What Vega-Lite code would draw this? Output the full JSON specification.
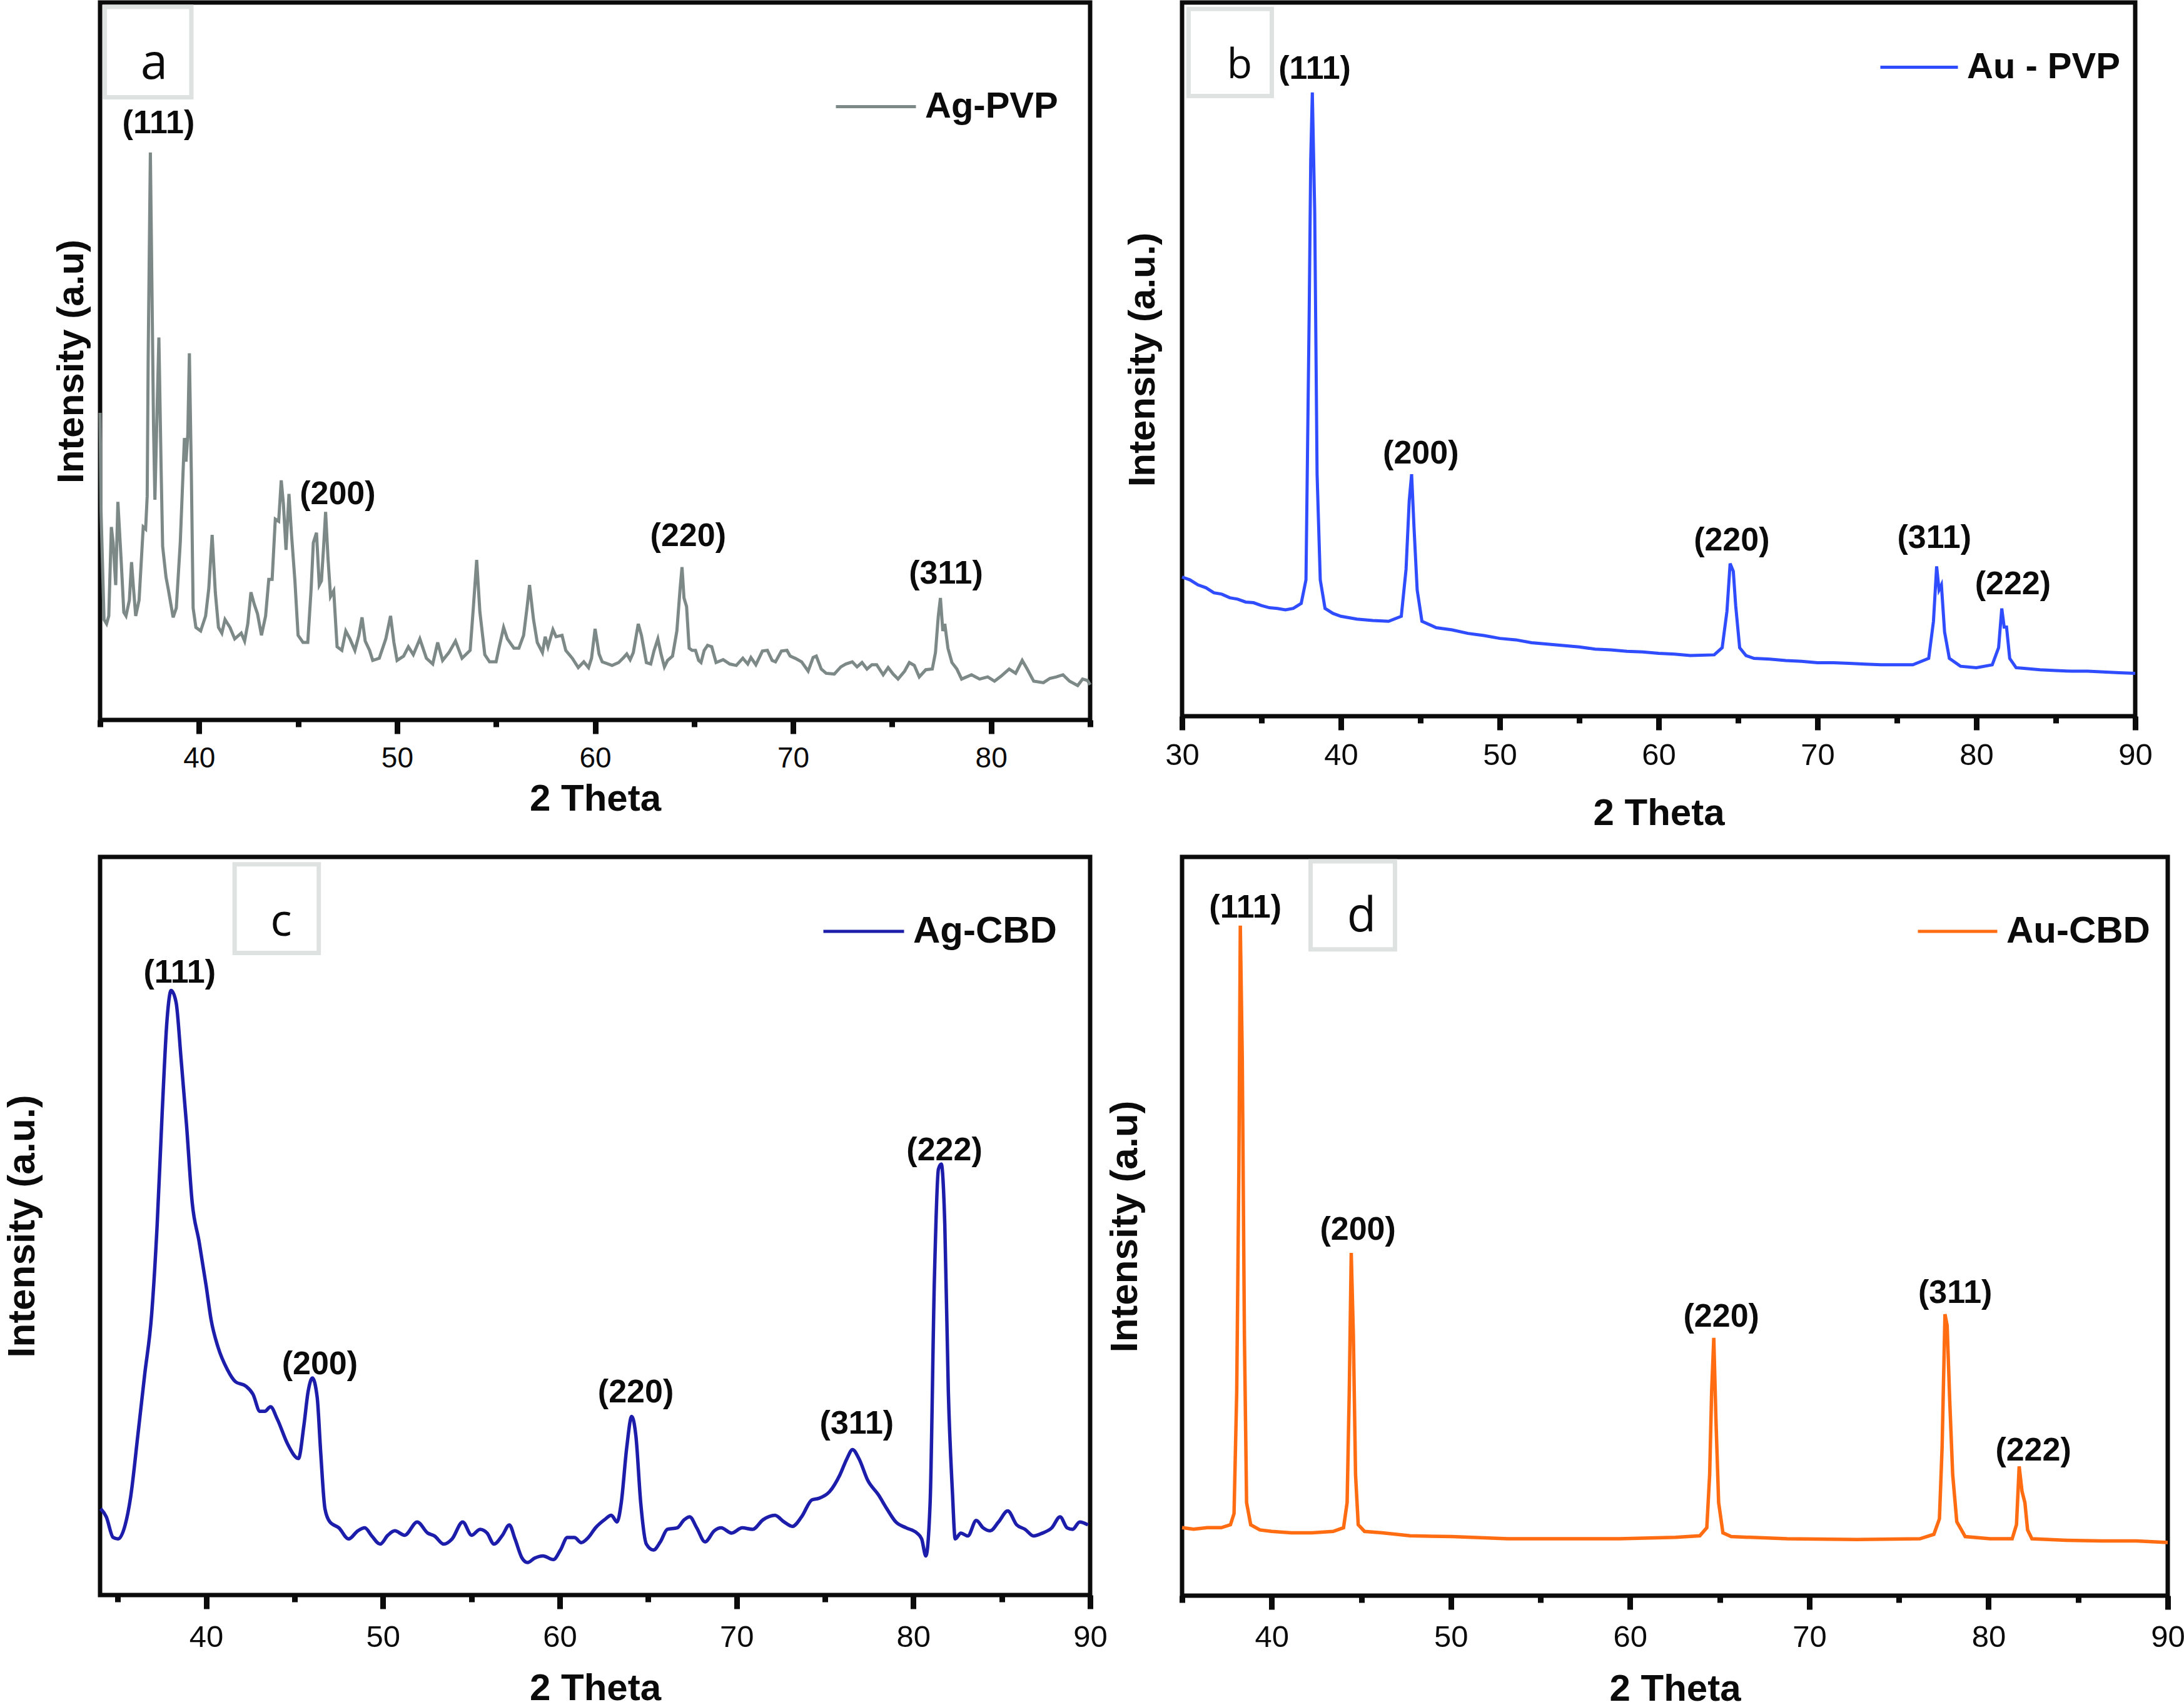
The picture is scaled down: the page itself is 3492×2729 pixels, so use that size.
{
"$schema": "https://vega.github.io/schema/vega-lite/v6.json",
"padding": 0,
"background": "white",
"columns": 2,
"spacing": {"row": 219, "column": 147},
"bounds": "flush",
"align": "each",
"resolve": {"scale": {"x": "independent", "y": "independent", "color": "independent"}},
"datasets": {
"a": [
{"theta":35.0,"intensity":42.8},{"theta":35.05,"intensity":29},{"theta":35.2,"intensity":14},{"theta":35.33,"intensity":13.4},{"theta":35.44,"intensity":14.5},{"theta":35.57,"intensity":26.9},{"theta":35.66,"intensity":24.7},{"theta":35.79,"intensity":18.8},{"theta":35.9,"intensity":30.4},{"theta":36.07,"intensity":22},{"theta":36.2,"intensity":15},{"theta":36.31,"intensity":14.5},{"theta":36.48,"intensity":16.7},{"theta":36.59,"intensity":22},{"theta":36.69,"intensity":18.3},{"theta":36.8,"intensity":14.5},{"theta":36.97,"intensity":16.7},{"theta":37.18,"intensity":26.9},{"theta":37.3,"intensity":26.6},{"theta":37.38,"intensity":31.2},{"theta":37.43,"intensity":50.6},{"theta":37.54,"intensity":79.1},{"theta":37.62,"intensity":60.2},{"theta":37.7,"intensity":40.9},{"theta":37.77,"intensity":30.7},{"theta":37.87,"intensity":42},{"theta":37.97,"intensity":53.3},{"theta":38.08,"intensity":35.5},{"theta":38.16,"intensity":24.2},{"theta":38.33,"intensity":19.9},{"theta":38.44,"intensity":18.3},{"theta":38.69,"intensity":14.3},{"theta":38.85,"intensity":15.6},{"theta":39.05,"intensity":24.7},{"theta":39.26,"intensity":39.3},{"theta":39.34,"intensity":36},{"theta":39.43,"intensity":39.8},{"theta":39.51,"intensity":51.1},{"theta":39.61,"intensity":34.4},{"theta":39.7,"intensity":15.6},{"theta":39.84,"intensity":12.9},{"theta":40.08,"intensity":12.4},{"theta":40.33,"intensity":14.5},{"theta":40.49,"intensity":18.3},{"theta":40.66,"intensity":25.8},{"theta":40.82,"intensity":17.8},{"theta":40.98,"intensity":12.9},{"theta":41.15,"intensity":12.1},{"theta":41.31,"intensity":14},{"theta":41.56,"intensity":12.9},{"theta":41.8,"intensity":11.3},{"theta":42.13,"intensity":12.1},{"theta":42.3,"intensity":11},{"theta":42.46,"intensity":13.4},{"theta":42.62,"intensity":17.8},{"theta":42.79,"intensity":16.1},{"theta":42.95,"intensity":14.8},{"theta":43.15,"intensity":11.8},{"theta":43.36,"intensity":14.5},{"theta":43.52,"intensity":19.6},{"theta":43.69,"intensity":19.6},{"theta":43.85,"intensity":28},{"theta":44.02,"intensity":27.7},{"theta":44.15,"intensity":33.4},{"theta":44.26,"intensity":30.1},{"theta":44.39,"intensity":23.7},{"theta":44.54,"intensity":31.5},{"theta":44.67,"intensity":25.8},{"theta":44.84,"intensity":19.4},{"theta":45.0,"intensity":11.8},{"theta":45.25,"intensity":10.8},{"theta":45.49,"intensity":10.8},{"theta":45.66,"intensity":18.3},{"theta":45.77,"intensity":24.7},{"theta":45.93,"intensity":26.1},{"theta":46.07,"intensity":18.8},{"theta":46.18,"intensity":19.4},{"theta":46.28,"intensity":23.7},{"theta":46.39,"intensity":29},{"theta":46.51,"intensity":22.6},{"theta":46.64,"intensity":17.2},{"theta":46.8,"intensity":18},{"theta":46.97,"intensity":10.2},{"theta":47.21,"intensity":9.7},{"theta":47.41,"intensity":12.4},{"theta":47.62,"intensity":11.3},{"theta":47.87,"intensity":9.7},{"theta":48.07,"intensity":11.8},{"theta":48.23,"intensity":14.3},{"theta":48.39,"intensity":11},{"theta":48.61,"intensity":9.7},{"theta":48.77,"intensity":8.3},{"theta":49.1,"intensity":8.6},{"theta":49.43,"intensity":11.3},{"theta":49.67,"intensity":14.5},{"theta":49.84,"intensity":10.8},{"theta":50.0,"intensity":8.3},{"theta":50.33,"intensity":8.9},{"theta":50.57,"intensity":10.2},{"theta":50.82,"intensity":9.1},{"theta":51.15,"intensity":11.3},{"theta":51.48,"intensity":8.6},{"theta":51.8,"intensity":7.8},{"theta":52.05,"intensity":10.8},{"theta":52.3,"intensity":8.3},{"theta":52.62,"intensity":9.4},{"theta":52.95,"intensity":11},{"theta":53.28,"intensity":8.6},{"theta":53.69,"intensity":9.7},{"theta":53.85,"intensity":15.6},{"theta":54.02,"intensity":22.3},{"theta":54.18,"intensity":15.1},{"theta":54.43,"intensity":9.1},{"theta":54.67,"intensity":8.1},{"theta":55.0,"intensity":8.1},{"theta":55.16,"intensity":10.2},{"theta":55.38,"intensity":12.9},{"theta":55.57,"intensity":11.3},{"theta":55.9,"intensity":10},{"theta":56.15,"intensity":10},{"theta":56.39,"intensity":11.8},{"theta":56.56,"intensity":15.6},{"theta":56.69,"intensity":18.8},{"theta":56.89,"intensity":14},{"theta":57.08,"intensity":10.8},{"theta":57.34,"intensity":9.4},{"theta":57.48,"intensity":11.6},{"theta":57.62,"intensity":10.2},{"theta":57.87,"intensity":12.6},{"theta":58.03,"intensity":11.6},{"theta":58.33,"intensity":11.8},{"theta":58.52,"intensity":9.7},{"theta":58.85,"intensity":8.6},{"theta":59.15,"intensity":7.3},{"theta":59.43,"intensity":8.1},{"theta":59.67,"intensity":7.3},{"theta":59.82,"intensity":8.6},{"theta":60.0,"intensity":12.7},{"theta":60.2,"intensity":9.2},{"theta":60.36,"intensity":8.1},{"theta":60.86,"intensity":7.6},{"theta":61.19,"intensity":8},{"theta":61.44,"intensity":8.7},{"theta":61.6,"intensity":9.2},{"theta":61.77,"intensity":8.4},{"theta":61.93,"intensity":9.4},{"theta":62.18,"intensity":13.4},{"theta":62.34,"intensity":11.8},{"theta":62.59,"intensity":8},{"theta":62.81,"intensity":7.8},{"theta":62.97,"intensity":9.6},{"theta":63.17,"intensity":11.3},{"theta":63.33,"intensity":9.2},{"theta":63.5,"intensity":7.4},{"theta":63.66,"intensity":8.3},{"theta":63.91,"intensity":8.9},{"theta":64.13,"intensity":12.4},{"theta":64.29,"intensity":18.2},{"theta":64.39,"intensity":21.3},{"theta":64.49,"intensity":17},{"theta":64.62,"intensity":15.8},{"theta":64.75,"intensity":10},{"theta":64.9,"intensity":9.7},{"theta":65.07,"intensity":9.7},{"theta":65.23,"intensity":8.3},{"theta":65.35,"intensity":8},{"theta":65.51,"intensity":9.7},{"theta":65.68,"intensity":10.4},{"theta":65.89,"intensity":10.2},{"theta":66.11,"intensity":8},{"theta":66.47,"intensity":8.4},{"theta":66.8,"intensity":7.8},{"theta":67.13,"intensity":7.6},{"theta":67.46,"intensity":8.6},{"theta":67.71,"intensity":7.8},{"theta":67.87,"intensity":8.7},{"theta":68.12,"intensity":7.7},{"theta":68.45,"intensity":9.6},{"theta":68.7,"intensity":9.7},{"theta":68.94,"intensity":8.3},{"theta":69.11,"intensity":8.1},{"theta":69.41,"intensity":9.6},{"theta":69.69,"intensity":9.7},{"theta":69.85,"intensity":8.9},{"theta":70.1,"intensity":8.6},{"theta":70.43,"intensity":8.1},{"theta":70.76,"intensity":6.8},{"theta":71.01,"intensity":8.7},{"theta":71.17,"intensity":8.9},{"theta":71.42,"intensity":7.1},{"theta":71.67,"intensity":6.5},{"theta":72.08,"intensity":6.4},{"theta":72.41,"intensity":7.4},{"theta":72.66,"intensity":7.8},{"theta":72.99,"intensity":8.1},{"theta":73.23,"intensity":7.4},{"theta":73.48,"intensity":8},{"theta":73.73,"intensity":7.1},{"theta":73.98,"intensity":7.7},{"theta":74.22,"intensity":7.7},{"theta":74.55,"intensity":6.3},{"theta":74.8,"intensity":7.3},{"theta":75.05,"intensity":6.4},{"theta":75.3,"intensity":5.7},{"theta":75.63,"intensity":6.8},{"theta":75.87,"intensity":8},{"theta":76.12,"intensity":7.6},{"theta":76.37,"intensity":6},{"theta":76.7,"intensity":7},{"theta":77.03,"intensity":7.1},{"theta":77.19,"intensity":9.4},{"theta":77.33,"intensity":14.4},{"theta":77.44,"intensity":17},{"theta":77.56,"intensity":12.4},{"theta":77.66,"intensity":13.4},{"theta":77.82,"intensity":10},{"theta":78.02,"intensity":8},{"theta":78.27,"intensity":7.1},{"theta":78.51,"intensity":5.7},{"theta":79.01,"intensity":6.3},{"theta":79.42,"intensity":5.7},{"theta":79.83,"intensity":6},{"theta":80.17,"intensity":5.4},{"theta":80.5,"intensity":6.1},{"theta":80.91,"intensity":7.1},{"theta":81.24,"intensity":6.5},{"theta":81.57,"intensity":8.3},{"theta":81.82,"intensity":7.1},{"theta":82.15,"intensity":5.4},{"theta":82.64,"intensity":5.2},{"theta":82.97,"intensity":5.8},{"theta":83.3,"intensity":6},{"theta":83.63,"intensity":6.3},{"theta":83.96,"intensity":5.4},{"theta":84.37,"intensity":4.8},{"theta":84.62,"intensity":5.7},{"theta":84.87,"intensity":5.5},{"theta":85.0,"intensity":4.9}
],
"b": [
{"theta":30,"intensity":19.5},{"theta":30.5,"intensity":19.1},{"theta":31,"intensity":18.4},{"theta":31.5,"intensity":18.0},{"theta":32,"intensity":17.3},{"theta":32.5,"intensity":17.1},{"theta":33,"intensity":16.6},{"theta":33.5,"intensity":16.4},{"theta":34,"intensity":16.0},{"theta":34.5,"intensity":15.9},{"theta":35,"intensity":15.5},{"theta":35.5,"intensity":15.2},{"theta":36,"intensity":15.1},{"theta":36.5,"intensity":14.9},{"theta":37,"intensity":15.1},{"theta":37.5,"intensity":15.8},{"theta":37.8,"intensity":19.1},{"theta":38.0,"intensity":56},{"theta":38.1,"intensity":78},{"theta":38.2,"intensity":87.4},{"theta":38.35,"intensity":70.7},{"theta":38.5,"intensity":33.9},{"theta":38.7,"intensity":19.1},{"theta":39,"intensity":15.1},{"theta":39.5,"intensity":14.4},{"theta":40,"intensity":14.0},{"theta":41,"intensity":13.6},{"theta":42,"intensity":13.4},{"theta":43,"intensity":13.3},{"theta":43.8,"intensity":14.0},{"theta":44.1,"intensity":20.6},{"theta":44.3,"intensity":30.2},{"theta":44.45,"intensity":33.9},{"theta":44.6,"intensity":26.5},{"theta":44.8,"intensity":17.7},{"theta":45.1,"intensity":13.3},{"theta":46,"intensity":12.4},{"theta":47,"intensity":12.1},{"theta":48,"intensity":11.6},{"theta":49,"intensity":11.3},{"theta":50,"intensity":10.9},{"theta":51,"intensity":10.7},{"theta":52,"intensity":10.3},{"theta":53,"intensity":10.1},{"theta":54,"intensity":9.9},{"theta":55,"intensity":9.7},{"theta":56,"intensity":9.4},{"theta":57,"intensity":9.3},{"theta":58,"intensity":9.1},{"theta":59,"intensity":9.0},{"theta":60,"intensity":8.8},{"theta":61,"intensity":8.7},{"theta":62,"intensity":8.5},{"theta":63.5,"intensity":8.6},{"theta":64,"intensity":9.6},{"theta":64.3,"intensity":14.7},{"theta":64.5,"intensity":21.4},{"theta":64.7,"intensity":20.3},{"theta":64.85,"intensity":15.5},{"theta":65.1,"intensity":9.6},{"theta":65.5,"intensity":8.5},{"theta":66,"intensity":8.1},{"theta":67,"intensity":8.0},{"theta":68,"intensity":7.8},{"theta":69,"intensity":7.7},{"theta":70,"intensity":7.5},{"theta":71,"intensity":7.5},{"theta":72,"intensity":7.4},{"theta":73,"intensity":7.3},{"theta":74,"intensity":7.2},{"theta":75,"intensity":7.2},{"theta":76,"intensity":7.2},{"theta":77,"intensity":8.1},{"theta":77.3,"intensity":13.3},{"theta":77.5,"intensity":21},{"theta":77.65,"intensity":17.7},{"theta":77.8,"intensity":18.4},{"theta":78,"intensity":11.8},{"theta":78.3,"intensity":8.1},{"theta":79,"intensity":7.0},{"theta":80,"intensity":6.8},{"theta":81,"intensity":7.2},{"theta":81.4,"intensity":9.6},{"theta":81.6,"intensity":15.1},{"theta":81.75,"intensity":12.5},{"theta":81.9,"intensity":12.5},{"theta":82.1,"intensity":8.1},{"theta":82.5,"intensity":6.8},{"theta":83,"intensity":6.7},{"theta":84,"intensity":6.5},{"theta":85,"intensity":6.4},{"theta":86,"intensity":6.3},{"theta":87,"intensity":6.3},{"theta":88,"intensity":6.2},{"theta":89,"intensity":6.1},{"theta":90,"intensity":6.0}
],
"c": [
{"theta":34.03,"intensity":11.7},{"theta":34.35,"intensity":10.6},{"theta":34.74,"intensity":7.8},{"theta":35.02,"intensity":7.6},{"theta":35.42,"intensity":9.5},{"theta":35.73,"intensity":13.3},{"theta":36.13,"intensity":21.5},{"theta":36.52,"intensity":29.8},{"theta":36.92,"intensity":38.1},{"theta":37.23,"intensity":50.2},{"theta":37.51,"intensity":65.2},{"theta":37.79,"intensity":78},{"theta":38.02,"intensity":81.9},{"theta":38.3,"intensity":80.3},{"theta":38.58,"intensity":72.7},{"theta":38.89,"intensity":63.7},{"theta":39.21,"intensity":53.2},{"theta":39.6,"intensity":47.9},{"theta":40.0,"intensity":41.9},{"theta":40.28,"intensity":37.3},{"theta":40.67,"intensity":33.6},{"theta":41.19,"intensity":30.6},{"theta":41.66,"intensity":28.9},{"theta":42.25,"intensity":28.3},{"theta":42.65,"intensity":27.2},{"theta":43.04,"intensity":24.9},{"theta":43.32,"intensity":24.9},{"theta":43.64,"intensity":25.5},{"theta":44.03,"intensity":23.8},{"theta":44.62,"intensity":20.4},{"theta":45.22,"intensity":18.5},{"theta":45.53,"intensity":23},{"theta":45.77,"intensity":27.6},{"theta":46.01,"intensity":29.4},{"theta":46.28,"intensity":26.8},{"theta":46.48,"intensity":19.3},{"theta":46.72,"intensity":11.7},{"theta":47.0,"intensity":9.9},{"theta":47.51,"intensity":9.1},{"theta":48.06,"intensity":7.6},{"theta":48.58,"intensity":8.7},{"theta":48.97,"intensity":9.1},{"theta":49.37,"intensity":8},{"theta":49.84,"intensity":6.9},{"theta":50.28,"intensity":8.1},{"theta":50.67,"intensity":8.7},{"theta":51.23,"intensity":8.1},{"theta":51.94,"intensity":9.9},{"theta":52.53,"intensity":8.4},{"theta":52.92,"intensity":8},{"theta":53.44,"intensity":6.9},{"theta":53.91,"intensity":7.6},{"theta":54.51,"intensity":9.9},{"theta":55.02,"intensity":8.1},{"theta":55.49,"intensity":8.9},{"theta":55.89,"intensity":8.4},{"theta":56.28,"intensity":6.9},{"theta":56.76,"intensity":8.1},{"theta":57.15,"intensity":9.5},{"theta":57.47,"intensity":7.6},{"theta":57.87,"intensity":5},{"theta":58.18,"intensity":4.4},{"theta":58.58,"intensity":5},{"theta":59.05,"intensity":5.3},{"theta":59.64,"intensity":4.8},{"theta":60.04,"intensity":6.1},{"theta":60.43,"intensity":7.8},{"theta":60.83,"intensity":7.8},{"theta":61.22,"intensity":7.1},{"theta":61.62,"intensity":7.8},{"theta":62.02,"intensity":9.1},{"theta":62.53,"intensity":10.2},{"theta":62.92,"intensity":10.8},{"theta":63.24,"intensity":9.9},{"theta":63.48,"intensity":12.5},{"theta":63.79,"intensity":20},{"theta":64.07,"intensity":24.2},{"theta":64.31,"intensity":21.5},{"theta":64.58,"intensity":12.5},{"theta":64.9,"intensity":6.9},{"theta":65.3,"intensity":6.1},{"theta":65.69,"intensity":7.2},{"theta":66.09,"intensity":8.9},{"theta":66.64,"intensity":9.1},{"theta":67.04,"intensity":10.2},{"theta":67.35,"intensity":10.6},{"theta":67.75,"intensity":9.1},{"theta":68.22,"intensity":7.2},{"theta":68.74,"intensity":8.7},{"theta":69.13,"intensity":9.1},{"theta":69.72,"intensity":8.4},{"theta":70.32,"intensity":9.1},{"theta":70.91,"intensity":8.9},{"theta":71.5,"intensity":10.2},{"theta":72.17,"intensity":10.8},{"theta":72.69,"intensity":9.9},{"theta":73.16,"intensity":9.3},{"theta":73.68,"intensity":10.6},{"theta":74.27,"intensity":12.9},{"theta":74.66,"intensity":13.1},{"theta":75.26,"intensity":14},{"theta":75.85,"intensity":16.3},{"theta":76.25,"intensity":18.5},{"theta":76.56,"intensity":19.7},{"theta":76.92,"intensity":18.5},{"theta":77.43,"intensity":15.5},{"theta":78.02,"intensity":13.6},{"theta":78.5,"intensity":11.7},{"theta":79.01,"intensity":9.9},{"theta":79.6,"intensity":9.1},{"theta":80.2,"intensity":8.4},{"theta":80.47,"intensity":7.6},{"theta":80.71,"intensity":5.3},{"theta":80.95,"intensity":12.5},{"theta":81.19,"intensity":42.6},{"theta":81.42,"intensity":57.7},{"theta":81.58,"intensity":58.4},{"theta":81.78,"intensity":50.2},{"theta":81.98,"intensity":27.6},{"theta":82.21,"intensity":14},{"theta":82.37,"intensity":7.6},{"theta":82.69,"intensity":8.4},{"theta":83.08,"intensity":8},{"theta":83.56,"intensity":10.1},{"theta":83.95,"intensity":9.1},{"theta":84.35,"intensity":8.7},{"theta":84.82,"intensity":9.9},{"theta":85.34,"intensity":11.4},{"theta":85.85,"intensity":9.5},{"theta":86.32,"intensity":8.9},{"theta":86.8,"intensity":8},{"theta":87.31,"intensity":8.4},{"theta":87.83,"intensity":9.1},{"theta":88.3,"intensity":10.6},{"theta":88.7,"intensity":9.1},{"theta":89.01,"intensity":8.9},{"theta":89.41,"intensity":9.9},{"theta":89.88,"intensity":9.5}
],
"d": [
{"theta":35,"intensity":9.2},{"theta":35.64,"intensity":9.0},{"theta":36.41,"intensity":9.2},{"theta":37.19,"intensity":9.2},{"theta":37.7,"intensity":9.6},{"theta":37.9,"intensity":11.1},{"theta":38.05,"intensity":27.6},{"theta":38.17,"intensity":57.7},{"theta":38.25,"intensity":90.7},{"theta":38.36,"intensity":72.7},{"theta":38.48,"intensity":35.1},{"theta":38.6,"intensity":12.6},{"theta":38.83,"intensity":9.6},{"theta":39.34,"intensity":8.9},{"theta":40,"intensity":8.7},{"theta":41.09,"intensity":8.5},{"theta":42.26,"intensity":8.5},{"theta":43.43,"intensity":8.7},{"theta":44.01,"intensity":9.2},{"theta":44.21,"intensity":12.6},{"theta":44.33,"intensity":27.6},{"theta":44.44,"intensity":46.4},{"theta":44.56,"intensity":35.1},{"theta":44.68,"intensity":16.4},{"theta":44.83,"intensity":9.6},{"theta":45.18,"intensity":8.7},{"theta":46.16,"intensity":8.5},{"theta":47.72,"intensity":8.1},{"theta":50.05,"intensity":8.0},{"theta":53.17,"intensity":7.7},{"theta":56.29,"intensity":7.7},{"theta":59.41,"intensity":7.7},{"theta":62.53,"intensity":7.9},{"theta":63.89,"intensity":8.1},{"theta":64.28,"intensity":9.2},{"theta":64.44,"intensity":16.4},{"theta":64.55,"intensity":27.6},{"theta":64.67,"intensity":34.9},{"theta":64.79,"intensity":23.9},{"theta":64.94,"intensity":12.6},{"theta":65.18,"intensity":8.5},{"theta":65.64,"intensity":8.0},{"theta":68.76,"intensity":7.7},{"theta":72.66,"intensity":7.6},{"theta":76.17,"intensity":7.7},{"theta":76.95,"intensity":8.3},{"theta":77.26,"intensity":10.4},{"theta":77.41,"intensity":20.1},{"theta":77.57,"intensity":38.1},{"theta":77.69,"intensity":36.6},{"theta":77.84,"intensity":26.1},{"theta":78.0,"intensity":16.4},{"theta":78.23,"intensity":10.0},{"theta":78.7,"intensity":8.0},{"theta":80.08,"intensity":7.7},{"theta":81.32,"intensity":7.7},{"theta":81.56,"intensity":9.6},{"theta":81.71,"intensity":17.5},{"theta":81.87,"intensity":14.1},{"theta":82.03,"intensity":12.6},{"theta":82.18,"intensity":8.9},{"theta":82.42,"intensity":7.7},{"theta":84.35,"intensity":7.5},{"theta":86.3,"intensity":7.4},{"theta":88.25,"intensity":7.4},{"theta":90,"intensity":7.2}
],
"labels": [
{"panel":"a","label":"(111)","theta":37.95,"intensity":81.8},{"panel":"a","label":"(200)","theta":47.0,"intensity":30.1},{"panel":"a","label":"(220)","theta":64.7,"intensity":24.2},{"panel":"a","label":"(311)","theta":77.72,"intensity":19.0},
{"panel":"b","label":"(111)","theta":38.35,"intensity":89.3},{"panel":"b","label":"(200)","theta":45.03,"intensity":35.4},{"panel":"b","label":"(220)","theta":64.6,"intensity":23.2},{"panel":"b","label":"(311)","theta":77.35,"intensity":23.6},{"panel":"b","label":"(222)","theta":82.3,"intensity":17.1},
{"panel":"c","label":"(111)","theta":38.5,"intensity":83.0},{"panel":"c","label":"(200)","theta":46.43,"intensity":29.9},{"panel":"c","label":"(220)","theta":64.3,"intensity":26.1},{"panel":"c","label":"(311)","theta":76.8,"intensity":21.9},{"panel":"c","label":"(222)","theta":81.76,"intensity":58.9},
{"panel":"d","label":"(111)","theta":38.53,"intensity":91.8},{"panel":"d","label":"(200)","theta":44.81,"intensity":48.2},{"panel":"d","label":"(220)","theta":65.09,"intensity":36.4},{"panel":"d","label":"(311)","theta":78.14,"intensity":39.6},{"panel":"d","label":"(222)","theta":82.5,"intensity":18.3}
],
"boxes": [
{"panel":"a","letter":"a","left":35.24,"right":39.61,"top":99.4,"bottom":86.8,"letterTheta":37.73,"letterIntensity":89.4},
{"panel":"b","letter":"b","left":30.41,"right":35.65,"top":99.1,"bottom":86.9,"letterTheta":33.62,"letterIntensity":89.4},
{"panel":"c","letter":"c","left":41.61,"right":46.37,"top":99.0,"bottom":87.0,"letterTheta":44.24,"letterIntensity":89.3},
{"panel":"d","letter":"d","left":42.17,"right":46.88,"top":99.4,"bottom":87.5,"letterTheta":45.02,"letterIntensity":89.9}
]
},
"concat": [
{
"width": 1583, "height": 1147,
"layer": [
{"data": {"name": "a"}, "mark": {"type": "line", "strokeWidth": 5},
 "encoding": {
  "x": {"field": "theta", "type": "quantitative", "scale": {"domain": [35, 85], "nice": false, "zero": false},
   "axis": {"title": "2 Theta", "values": [35,40,45,50,55,60,65,70,75,80,85], "labelExpr": "datum.value % 10 === 0 ? datum.label : ''", "tickSize": {"condition": {"test": "datum.value % 10 === 0", "value": 22}, "value": 11}, "labelFontSize": 46, "labelPadding": 17, "titlePadding": 13, "titleFontSize": 60}},
  "y": {"field": "intensity", "type": "quantitative", "scale": {"domain": [0, 100], "nice": false},
   "axis": {"title": "Intensity (a.u)", "ticks": false, "labels": false, "titlePadding": 15, "titleFontSize": 60}},
  "color": {"datum": "Ag-PVP", "scale": {"range": ["#7d8987"]}, "legend": {"title": null, "legendX": 1174, "legendY": 100, "symbolSize": 16384, "labelFontSize": 58}}
 }},
{"data": {"name": "boxes"}, "transform": [{"filter": "datum.panel === 'a'"}],
 "mark": {"type": "rect", "filled": false, "stroke": "#dee2e1", "strokeWidth": 7},
 "encoding": {"x": {"field": "left", "type": "quantitative"}, "x2": {"field": "right"}, "y": {"field": "top", "type": "quantitative"}, "y2": {"field": "bottom"}}},
{"data": {"name": "boxes"}, "transform": [{"filter": "datum.panel === 'a'"}],
 "mark": {"type": "text", "font": "Open Sans", "fontWeight": "normal", "fontSize": 78, "baseline": "alphabetic"},
 "encoding": {"x": {"field": "letterTheta", "type": "quantitative"}, "y": {"field": "letterIntensity", "type": "quantitative"}, "text": {"field": "letter"}}},
{"data": {"name": "labels"}, "transform": [{"filter": "datum.panel === 'a'"}],
 "mark": {"type": "text", "baseline": "alphabetic", "fontSize": 52},
 "encoding": {"x": {"field": "theta", "type": "quantitative"}, "y": {"field": "intensity", "type": "quantitative"}, "text": {"field": "label"}}}
]
},
{
"width": 1524, "height": 1141,
"layer": [
{"data": {"name": "b"}, "mark": {"type": "line", "strokeWidth": 5},
 "encoding": {
  "x": {"field": "theta", "type": "quantitative", "scale": {"domain": [30, 90], "nice": false, "zero": false},
   "axis": {"title": "2 Theta", "values": [30,35,40,45,50,55,60,65,70,75,80,85,90], "labelExpr": "datum.value % 10 === 0 ? datum.label : ''", "tickSize": {"condition": {"test": "datum.value % 10 === 0", "value": 22}, "value": 11}, "labelFontSize": 49, "labelPadding": 16, "titlePadding": 39, "titleFontSize": 60}},
  "y": {"field": "intensity", "type": "quantitative", "scale": {"domain": [0, 100], "nice": false},
   "axis": {"title": "Intensity (a.u.)", "ticks": false, "labels": false, "titlePadding": 32, "titleFontSize": 60}},
  "color": {"datum": "Au - PVP", "scale": {"range": ["#2f4cff"]}, "legend": {"title": null, "legendX": 1114, "legendY": 39, "symbolSize": 15376, "labelFontSize": 58}}
 }},
{"data": {"name": "boxes"}, "transform": [{"filter": "datum.panel === 'b'"}],
 "mark": {"type": "rect", "filled": false, "stroke": "#dee2e1", "strokeWidth": 7},
 "encoding": {"x": {"field": "left", "type": "quantitative"}, "x2": {"field": "right"}, "y": {"field": "top", "type": "quantitative"}, "y2": {"field": "bottom"}}},
{"data": {"name": "boxes"}, "transform": [{"filter": "datum.panel === 'b'"}],
 "mark": {"type": "text", "font": "Open Sans", "fontWeight": "normal", "fontSize": 66, "baseline": "alphabetic"},
 "encoding": {"x": {"field": "letterTheta", "type": "quantitative"}, "y": {"field": "letterIntensity", "type": "quantitative"}, "text": {"field": "letter"}}},
{"data": {"name": "labels"}, "transform": [{"filter": "datum.panel === 'b'"}],
 "mark": {"type": "text", "baseline": "alphabetic", "fontSize": 52},
 "encoding": {"x": {"field": "theta", "type": "quantitative"}, "y": {"field": "intensity", "type": "quantitative"}, "text": {"field": "label"}}}
]
},
{
"width": 1583, "height": 1180,
"layer": [
{"data": {"name": "c"}, "mark": {"type": "line", "strokeWidth": 5.5, "interpolate": "monotone"},
 "encoding": {
  "x": {"field": "theta", "type": "quantitative", "scale": {"domain": [34, 90], "nice": false, "zero": false},
   "axis": {"title": "2 Theta", "values": [35,40,45,50,55,60,65,70,75,80,85,90], "labelExpr": "datum.value % 10 === 0 ? datum.label : ''", "tickSize": {"condition": {"test": "datum.value % 10 === 0", "value": 22}, "value": 11}, "labelFontSize": 49, "labelPadding": 21, "titlePadding": 28, "titleFontSize": 60}},
  "y": {"field": "intensity", "type": "quantitative", "scale": {"domain": [0, 100], "nice": false},
   "axis": {"title": "Intensity (a.u.)", "ticks": false, "labels": false, "titlePadding": 93, "titleFontSize": 62}},
  "color": {"datum": "Ag-CBD", "scale": {"range": ["#1d1dab"]}, "legend": {"title": null, "legendX": 1154, "legendY": 52, "symbolSize": 16641, "labelFontSize": 60}}
 }},
{"data": {"name": "boxes"}, "transform": [{"filter": "datum.panel === 'c'"}],
 "mark": {"type": "rect", "filled": false, "stroke": "#dee2e1", "strokeWidth": 7},
 "encoding": {"x": {"field": "left", "type": "quantitative"}, "x2": {"field": "right"}, "y": {"field": "top", "type": "quantitative"}, "y2": {"field": "bottom"}}},
{"data": {"name": "boxes"}, "transform": [{"filter": "datum.panel === 'c'"}],
 "mark": {"type": "text", "font": "Open Sans", "fontWeight": "normal", "fontSize": 72, "baseline": "alphabetic"},
 "encoding": {"x": {"field": "letterTheta", "type": "quantitative"}, "y": {"field": "letterIntensity", "type": "quantitative"}, "text": {"field": "letter"}}},
{"data": {"name": "labels"}, "transform": [{"filter": "datum.panel === 'c'"}],
 "mark": {"type": "text", "baseline": "alphabetic", "fontSize": 52},
 "encoding": {"x": {"field": "theta", "type": "quantitative"}, "y": {"field": "intensity", "type": "quantitative"}, "text": {"field": "label"}}}
]
},
{
"width": 1576, "height": 1181,
"layer": [
{"data": {"name": "d"}, "mark": {"type": "line", "strokeWidth": 5.5},
 "encoding": {
  "x": {"field": "theta", "type": "quantitative", "scale": {"domain": [35, 90], "nice": false, "zero": false},
   "axis": {"title": "2 Theta", "values": [35,40,45,50,55,60,65,70,75,80,85,90], "labelExpr": "datum.value % 10 === 0 ? datum.label : ''", "tickSize": {"condition": {"test": "datum.value % 10 === 0", "value": 22}, "value": 11}, "labelFontSize": 49, "labelPadding": 20, "titlePadding": 29, "titleFontSize": 60}},
  "y": {"field": "intensity", "type": "quantitative", "scale": {"domain": [0, 100], "nice": false},
   "axis": {"title": "Intensity (a.u)", "ticks": false, "labels": false, "titlePadding": 60, "titleFontSize": 62}},
  "color": {"datum": "Au-CBD", "scale": {"range": ["#ff6c12"]}, "legend": {"title": null, "legendX": 1174, "legendY": 53, "symbolSize": 16129, "labelFontSize": 60}}
 }},
{"data": {"name": "boxes"}, "transform": [{"filter": "datum.panel === 'd'"}],
 "mark": {"type": "rect", "filled": false, "stroke": "#dee2e1", "strokeWidth": 7},
 "encoding": {"x": {"field": "left", "type": "quantitative"}, "x2": {"field": "right"}, "y": {"field": "top", "type": "quantitative"}, "y2": {"field": "bottom"}}},
{"data": {"name": "boxes"}, "transform": [{"filter": "datum.panel === 'd'"}],
 "mark": {"type": "text", "font": "Open Sans", "fontWeight": "normal", "fontSize": 76, "baseline": "alphabetic"},
 "encoding": {"x": {"field": "letterTheta", "type": "quantitative"}, "y": {"field": "letterIntensity", "type": "quantitative"}, "text": {"field": "letter"}}},
{"data": {"name": "labels"}, "transform": [{"filter": "datum.panel === 'd'"}],
 "mark": {"type": "text", "baseline": "alphabetic", "fontSize": 52},
 "encoding": {"x": {"field": "theta", "type": "quantitative"}, "y": {"field": "intensity", "type": "quantitative"}, "text": {"field": "label"}}}
]
}
],
"config": {
 "view": {"stroke": "#0b0b0b", "strokeWidth": 7},
 "font": "Liberation Sans",
 "axis": {"grid": false, "domain": false, "labelColor": "#0b0b0b", "titleColor": "#0b0b0b", "tickColor": "#0b0b0b", "tickWidth": 9, "labelFont": "Liberation Sans", "titleFont": "Liberation Sans", "titleFontWeight": "bold", "minExtent": 0, "maxExtent": 500, "labelFlush": false, "labelOverlap": false},
 "text": {"font": "Liberation Sans", "fontWeight": "bold", "color": "#0b0b0b"},
 "legend": {"orient": "none", "padding": 0, "symbolType": "stroke", "symbolStrokeWidth": 5, "labelFont": "Liberation Sans", "labelFontWeight": "bold", "labelColor": "#0b0b0b", "labelLimit": 0, "labelOffset": 12}
}
}
